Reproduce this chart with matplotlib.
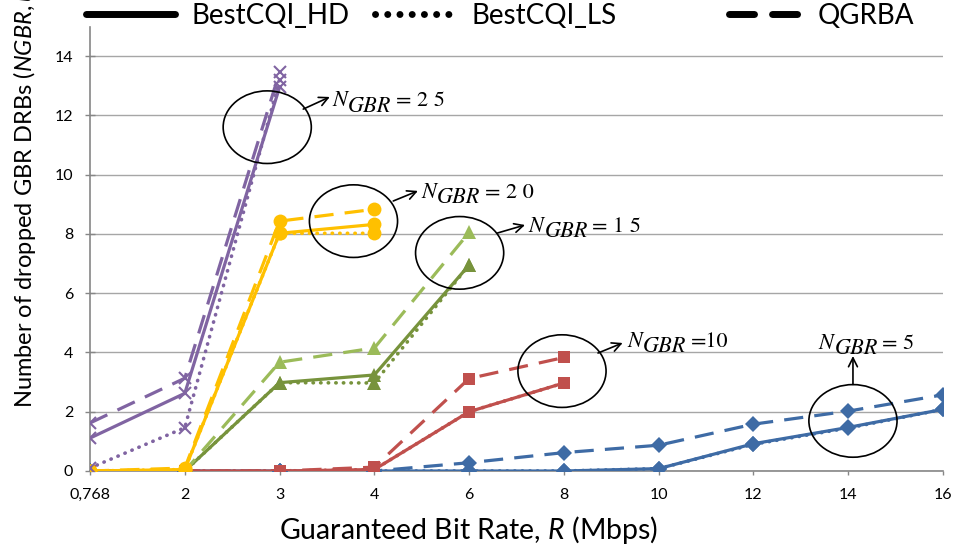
import numpy as np
import matplotlib
matplotlib.use('Agg')
import matplotlib.pyplot as plt
from matplotlib.lines import Line2D
from matplotlib.patches import Ellipse

# -----------------------------------------------------------------------------
# data (x axis is categorical)
# -----------------------------------------------------------------------------
rate_labels = ['0,768', '2', '3', '4', '6', '8', '10', '12', '14', '16']

# N_GBR = 5 (blue, diamonds), all rates
n5_hd  = [0, 0, 0, 0, 0, 0, 0.08, 0.92, 1.47, 2.08]
n5_ls  = [0, 0, 0, 0, 0, 0, 0.08, 0.90, 1.45, 2.08]
n5_qg  = [0, 0, 0, 0, 0.28, 0.62, 0.87, 1.58, 2.02, 2.57]

# N_GBR = 10 (red, squares), up to 8 Mbps
n10_hd = [0, 0, 0, 0.05, 2.0, 2.97]
n10_ls = [0, 0, 0, 0.05, 2.0, 2.97]
n10_qg = [0, 0, 0, 0.13, 3.12, 3.83]

# N_GBR = 15 (green, triangles), up to 6 Mbps
n15_hd = [0, 0, 2.98, 3.24, 6.95]
n15_ls = [0, 0, 2.98, 2.97, 6.95]
n15_qg = [0, 0, 3.67, 4.15, 8.05]

# N_GBR = 20 (yellow, circles), up to 4 Mbps
n20_hd = [0, 0.05, 8.02, 8.32]
n20_ls = [0, 0.05, 8.02, 8.02]
n20_qg = [0, 0.10, 8.43, 8.83]

# N_GBR = 25 (purple, crosses), up to 3 Mbps
n25_hd = [1.11, 2.62, 12.95]
n25_ls = [0.10, 1.46, 13.20]
n25_qg = [1.62, 3.13, 13.45]

# annotation: (value text, ellipse centre, arrow tail, arrow head, text anchor)
notes = [
    ('= 2 5', (1.87, 11.60), (2.25, 12.21), (2.53, 12.62), (2.56, 12.30)),
    ('= 2 0', (2.78, 8.43), (3.20, 9.11), (3.46, 9.45), (3.50, 9.22)),
    ('= 1 5', (3.90, 7.36), (4.30, 8.03), (4.59, 8.30), (4.63, 8.07)),
    ('=10',   (4.98, 3.37), (5.36, 3.98), (5.62, 4.32), (5.67, 4.20)),
    ('= 5',   (8.05, 1.69), (8.05, 2.92), (8.05, 3.88), (7.69, 4.12)),
]

plt.rcParams['font.family'] = ['Lato', 'DejaVu Sans']
plt.rcParams['mathtext.fontset'] = 'custom'
plt.rcParams['mathtext.rm'] = 'Lato'
plt.rcParams['mathtext.it'] = 'Lato:italic'

fig = plt.figure(figsize=(9.56, 5.54), dpi=100)
ax = fig.add_axes([90 / 956, 1 - 471 / 554, (943 - 90) / 956, (471 - 27) / 554])


def draw_group(hd, ls, qg, c_hd, c_ls, c_qg, marker, ms, z):
    x = np.arange(len(hd))
    mew = 1.5 if marker == 'x' else 0
    ax.plot(x, hd, '-', color=c_hd, lw=2.3, marker=marker, ms=ms,
            mec=c_hd, mew=mew, zorder=z)
    ax.plot(x, ls, color=c_ls, lw=2.6, dashes=(0.1, 2.0), dash_capstyle='round',
            marker=marker, ms=ms, mec=c_ls, mew=mew, zorder=z + 0.1)
    ax.plot(x, qg, color=c_qg, lw=2.3, dashes=(6, 3.5), marker=marker, ms=ms,
            mec=c_qg, mew=mew, zorder=z + 0.2)


blue = '#3E6BA5'
draw_group(n5_hd, n5_ls, n5_qg, blue, blue, blue, 'D', 8, 3)
draw_group(n10_hd, n10_ls, n10_qg, '#C0504D', '#C0504D', '#C0504D', 's', 9, 4)
draw_group(n15_hd, n15_ls, n15_qg, '#77933C', '#77933C', '#9BBB59', '^', 10, 5)
draw_group(n20_hd, n20_ls, n20_qg, '#FFC000', '#FFC000', '#FFC000', 'o', 10, 6)
draw_group(n25_hd, n25_ls, n25_qg, '#8064A2', '#8064A2', '#8064A2', 'x', 8, 7)

# circles + arrows + "N_GBR = k" labels (GBR drawn same size, just lowered)
math_font = dict(family='STIXGeneral', fontsize=16)
for value, c, tail, head, tpos in notes:
    ax.add_patch(Ellipse(c, 0.93, 2.45, fill=False, ec='black', lw=1.2, zorder=10))
    ax.annotate('', xy=head, xytext=tail,
                arrowprops=dict(arrowstyle='->', color='black', lw=1.2,
                                shrinkA=0, shrinkB=0, mutation_scale=16),
                zorder=10)
    t1 = ax.text(tpos[0], tpos[1], 'N', style='italic', va='baseline',
                 ha='left', zorder=10, **math_font)
    t2 = ax.annotate('GBR', xy=(1, 0), xycoords=t1, xytext=(0.5, -4),
                     textcoords='offset points', style='italic', va='bottom',
                     ha='left', zorder=10, **math_font)
    ax.annotate(value, xy=(1, 0), xycoords=(t2, t1), xytext=(3, 0),
                textcoords='offset points', va='bottom', ha='left',
                zorder=10, **math_font)

ax.set_xlim(0, len(rate_labels) - 1)
ax.set_ylim(0, 14.98)
ax.set_xticks(np.arange(len(rate_labels)))
ax.set_xticklabels(rate_labels)
ax.set_yticks(np.arange(0, 15, 2))
ax.tick_params(labelsize=11.5, colors='black', width=1)
ax.tick_params(axis='both', color='#868686')
ax.tick_params(axis='x', length=3, pad=9)
ax.tick_params(axis='y', direction='inout', length=7, pad=8.5)
ax.grid(True, axis='y', color='#A6A6A6', lw=1)
ax.set_axisbelow(True)
for s in ['top', 'right']:
    ax.spines[s].set_visible(False)
for s in ['left', 'bottom']:
    ax.spines[s].set_color('#868686')
    ax.spines[s].set_linewidth(1.2)

fig.text(469 / 956, 1 - 530 / 554, r'Guaranteed Bit Rate, $\mathit{R}$ (Mbps)',
         ha='center', va='center', fontsize=20.5)
fig.text(25 / 956, 1 - 408 / 554, r'Number of dropped GBR DRBs ($\mathit{NGBR,u}$)',
         ha='center', va='bottom', rotation=90, fontsize=17)

# legend entries laid out like the original (uneven spacing)
leg_items = [
    ('BestCQI_HD', dict(ls='-'), 83, 3.2, 0.6),
    ('BestCQI_LS', dict(dashes=(0.01, 1.75)), 372, 3.0, 0.5),
    ('QGRBA', dict(dashes=(3.6, 2.6)), 726, 2.6, 0.6),
]
for text, style, xpx, hlen, tpad in leg_items:
    h = Line2D([], [], color='black', lw=5, solid_capstyle='round',
               dash_capstyle='round', **style)
    fig.legend([h], [text], loc='upper left', frameon=False,
               bbox_to_anchor=(xpx / 956, 1.0), borderpad=0, borderaxespad=0.1,
               handlelength=hlen, handletextpad=tpad, fontsize=20)

fig.savefig('out.png', dpi=100)
